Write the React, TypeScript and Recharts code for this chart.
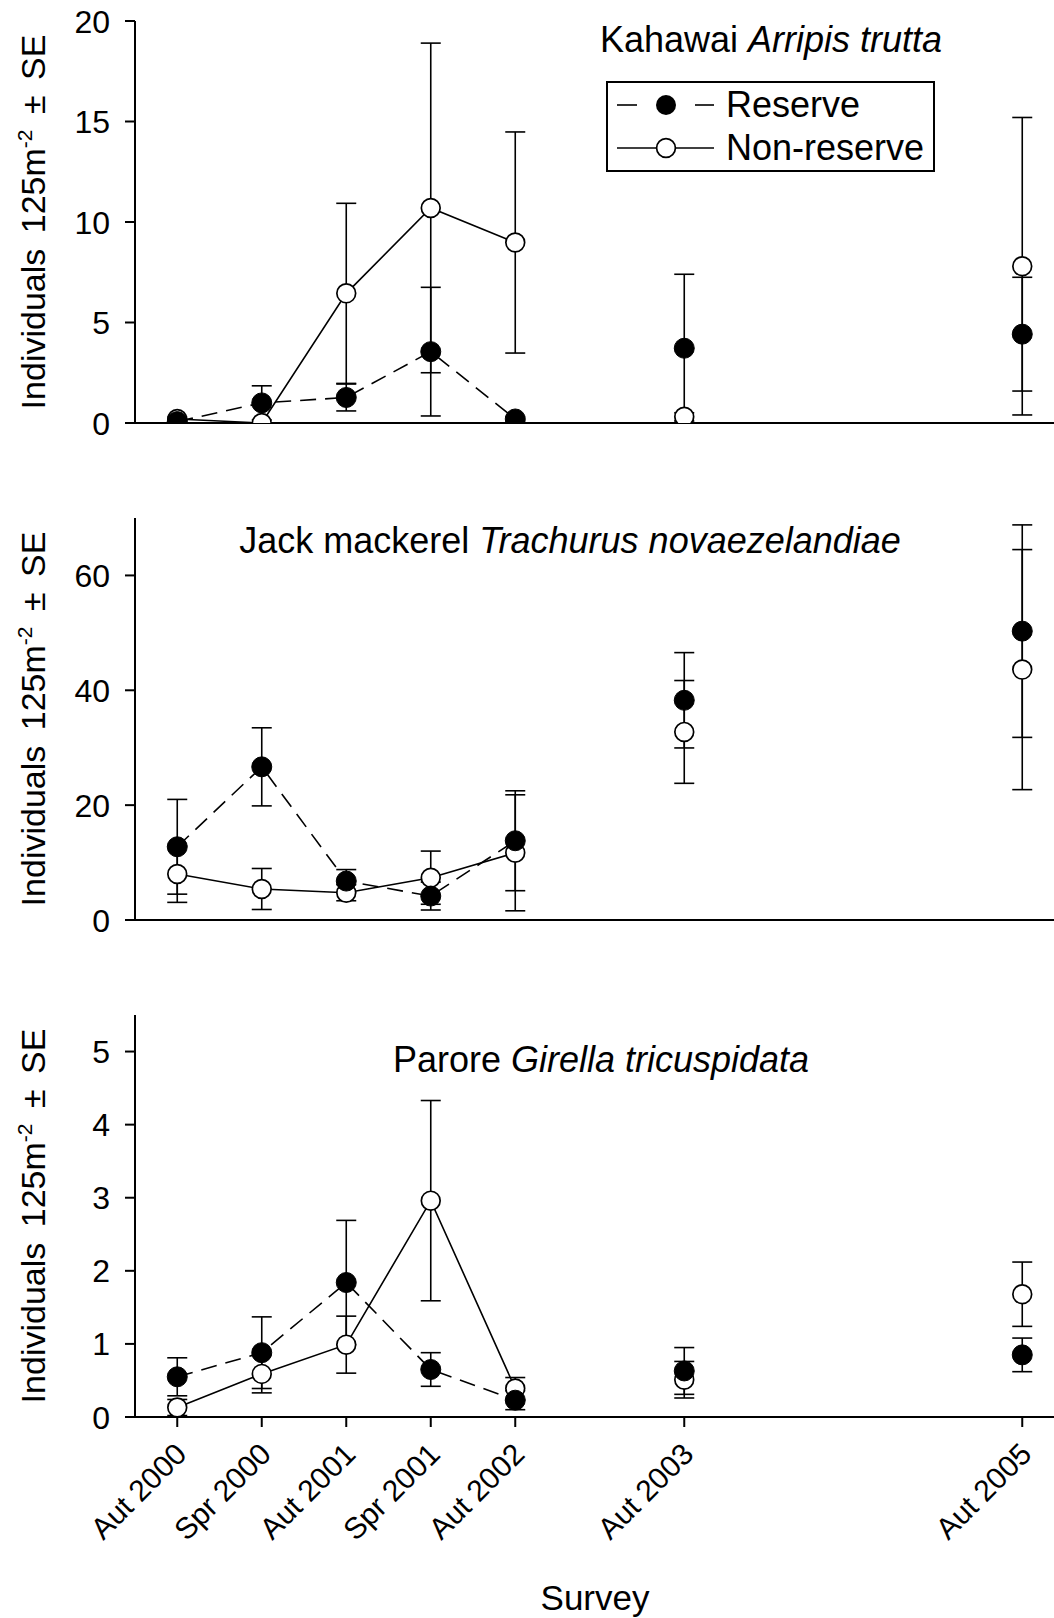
import { ComposedChart, XAxis, YAxis, Line, Scatter, ErrorBar, Legend, Label } from "recharts";

const FONT = '"Liberation Sans", Arial, Helvetica, sans-serif';

// survey names and their position on the time axis (years)
const surveys = ["Aut 2000", "Spr 2000", "Aut 2001", "Spr 2001", "Aut 2002", "Aut 2003", "Aut 2005"];
const surveyYear = [2000, 2000.5, 2001, 2001.5, 2002, 2003, 2005];
const linkedSurveys = 5; // the first five surveys are consecutive and joined by lines

const kahawaiReserve = [0.07, 1.0, 1.27, 3.55, 0.2, 3.72, 4.42];
const kahawaiReserveSE = [0.05, 0.85, 0.67, 3.2, 0.1, 3.68, 2.83];
const kahawaiNonReserve = [0.2, 0, 6.45, 10.7, 8.98, 0.31, 7.8];
const kahawaiNonReserveSE = [0.1, 0, 4.48, 8.2, 5.5, 0.2, 7.4];

const jackReserve = [12.75, 26.67, 6.78, 4.17, 13.8, 38.26, 50.3];
const jackReserveSE = [8.25, 6.8, 2.0, 2.43, 8.7, 8.3, 18.5];
const jackNonReserve = [8.0, 5.4, 4.75, 7.37, 11.7, 32.75, 43.6];
const jackNonReserveSE = [4.93, 3.57, 1.4, 4.63, 10.1, 8.95, 20.9];

const paroreReserve = [0.55, 0.88, 1.84, 0.65, 0.23, 0.63, 0.85];
const paroreReserveSE = [0.26, 0.49, 0.85, 0.23, 0.13, 0.32, 0.23];
const paroreNonReserve = [0.13, 0.59, 0.99, 2.96, 0.39, 0.51, 1.68];
const paroreNonReserveSE = [0.11, 0.26, 0.39, 1.37, 0.15, 0.25, 0.44];

const kahawaiTicks = [0, 5, 10, 15, 20];
const jackTicks = [0, 20, 40, 60];
const paroreTicks = [0, 1, 2, 3, 4, 5];

function buildRows(res: number[], resSE: number[], non: number[], nonSE: number[]) {
    return surveyYear.map((t, i) => ({
        t,
        res: res[i],
        resErr: resSE[i],
        non: non[i],
        nonErr: nonSE[i],
        resLine: i < linkedSurveys ? res[i] : null,
        nonLine: i < linkedSurveys ? non[i] : null,
    }));
}

const kahawaiData = buildRows(kahawaiReserve, kahawaiReserveSE, kahawaiNonReserve, kahawaiNonReserveSE);
const jackData = buildRows(jackReserve, jackReserveSE, jackNonReserve, jackNonReserveSE);
const paroreData = buildRows(paroreReserve, paroreReserveSE, paroreNonReserve, paroreNonReserveSE);

const filledDot = (p: any) => <circle cx={p.cx} cy={p.cy} r={10} fill="#000" stroke="#000" strokeWidth={1} />;
const openDot = (p: any) => <circle cx={p.cx} cy={p.cy} r={9.4} fill="#fff" stroke="#000" strokeWidth={1.7} />;

const SurveyTick = (props: any) => {
    const { x, y, payload } = props;
    const i = surveyYear.indexOf(payload.value);
    const ax = x + 11;
    const ay = y + 29;
    return (
        <text x={ax} y={ay} transform={`rotate(-45, ${ax}, ${ay})`} textAnchor="end" fontSize={30} fontFamily={FONT} fill="#000">
            {surveys[i]}
        </text>
    );
};

const ValueTick = (props: any) => {
    const { x, y, payload } = props;
    return (
        <text x={x} y={y} dy={11.5} textAnchor="end" fontSize={32} fontFamily={FONT} fill="#000">
            {payload.value}
        </text>
    );
};

const yLabel = (props: any) => {
    const vb = props.viewBox;
    const cy = vb && vb.y != null ? vb.y + vb.height / 2 : 222;
    const x = 45;
    return (
        <text x={x} y={cy} transform={`rotate(-90, ${x}, ${cy})`} textAnchor="middle" fontSize={34} fontFamily={FONT} fill="#000" wordSpacing={6}>
            Individuals 125m<tspan dy={-13} fontSize={21}>-2</tspan>
            <tspan dy={13}> ± SE</tspan>
        </text>
    );
};

const LegendBox = () => (
    <svg width={330} height={92}>
        <rect x={1} y={1} width={327} height={89} fill="#fff" stroke="#000" strokeWidth={2} />
        <line x1={11} y1={24} x2={31} y2={24} stroke="#000" strokeWidth={1.6} />
        <line x1={89} y1={24} x2={108} y2={24} stroke="#000" strokeWidth={1.6} />
        <circle cx={60} cy={24} r={10} fill="#000" />
        <text x={120} y={36} fontSize={36} fontFamily={FONT} fill="#000">Reserve</text>
        <line x1={11} y1={67} x2={108} y2={67} stroke="#000" strokeWidth={1.6} />
        <circle cx={60} cy={67} r={9.4} fill="#fff" stroke="#000" strokeWidth={1.7} />
        <text x={120} y={79} fontSize={36} fontFamily={FONT} fill="#000">Non-reserve</text>
    </svg>
);

interface PanelProps {
    top: number
    height: number
    data: any[]
    yMax: number
    yTicks: number[]
    showLabels?: boolean
    showLegend?: boolean
}

const Panel = ({ top, height, data, yMax, yTicks, showLabels, showLegend }: PanelProps) => (
    <div style={{ position: "absolute", left: 0, top }}>
        <ComposedChart width={1075} height={height} data={data} margin={{ top: 21, right: 10.5, bottom: 0, left: 0 }}>
            <XAxis
                type="number"
                dataKey="t"
                domain={[1999.75, 2005.25]}
                ticks={surveyYear}
                interval={0}
                allowDataOverflow
                height={height - 423}
                tickSize={10}
                tickMargin={0}
                axisLine={{ stroke: "#000", strokeWidth: 2 }}
                tickLine={{ stroke: "#000", strokeWidth: 2 }}
                tick={showLabels ? SurveyTick : false}
            />
            <YAxis
                type="number"
                width={135}
                domain={[0, yMax]}
                ticks={yTicks}
                interval={0}
                allowDataOverflow
                tickSize={10}
                tickMargin={15}
                axisLine={{ stroke: "#000", strokeWidth: 2 }}
                tickLine={{ stroke: "#000", strokeWidth: 2 }}
                tick={ValueTick}
            >
                <Label content={yLabel} />
            </YAxis>
            <Line type="linear" dataKey="nonLine" stroke="#000" strokeWidth={1.6} dot={false} activeDot={false} isAnimationActive={false} />
            <Line type="linear" dataKey="resLine" stroke="#000" strokeWidth={1.6} strokeDasharray="16 9" dot={false} activeDot={false} isAnimationActive={false} />
            <Scatter dataKey="non" shape={openDot} isAnimationActive={false}>
                <ErrorBar dataKey="nonErr" direction="y" width={10} stroke="#000" strokeWidth={1.6} isAnimationActive={false} />
            </Scatter>
            <Scatter dataKey="res" shape={filledDot} isAnimationActive={false}>
                <ErrorBar dataKey="resErr" direction="y" width={10} stroke="#000" strokeWidth={1.6} isAnimationActive={false} />
            </Scatter>
            {showLegend && (
                <Legend
                    layout="horizontal"
                    verticalAlign="middle"
                    align="center"
                    content={() => <LegendBox />}
                    wrapperStyle={{ left: 606, top: 81, width: 330, height: 92 }}
                />
            )}
        </ComposedChart>
    </div>
);

export default function App() {
    return (
        <div style={{ position: "absolute", left: 0, top: 0, width: 1054, height: 1618, overflow: "hidden", background: "#fff", fontFamily: FONT }}>
            <Panel top={0} height={497} data={kahawaiData} yMax={20} yTicks={kahawaiTicks} showLegend />
            <Panel top={497} height={497} data={jackData} yMax={70} yTicks={jackTicks} />
            <Panel top={994} height={624} data={paroreData} yMax={5.5} yTicks={paroreTicks} showLabels />
            <svg width={1054} height={1618} style={{ position: "absolute", left: 0, top: 0, pointerEvents: "none" }}>
                <text x={771} y={52} textAnchor="middle" fontSize={36} fontFamily={FONT} fill="#000">
                    Kahawai{" "}<tspan fontStyle="italic">Arripis trutta</tspan>
                </text>
                <text x={570} y={553} textAnchor="middle" fontSize={36} fontFamily={FONT} fill="#000">
                    Jack mackerel{" "}<tspan fontStyle="italic">Trachurus novaezelandiae</tspan>
                </text>
                <text x={601} y={1072} textAnchor="middle" fontSize={36} fontFamily={FONT} fill="#000">
                    Parore{" "}<tspan fontStyle="italic">Girella tricuspidata</tspan>
                </text>
                <text x={595} y={1610} textAnchor="middle" fontSize={35} fontFamily={FONT} fill="#000">Survey</text>
            </svg>
        </div>
    );
}
